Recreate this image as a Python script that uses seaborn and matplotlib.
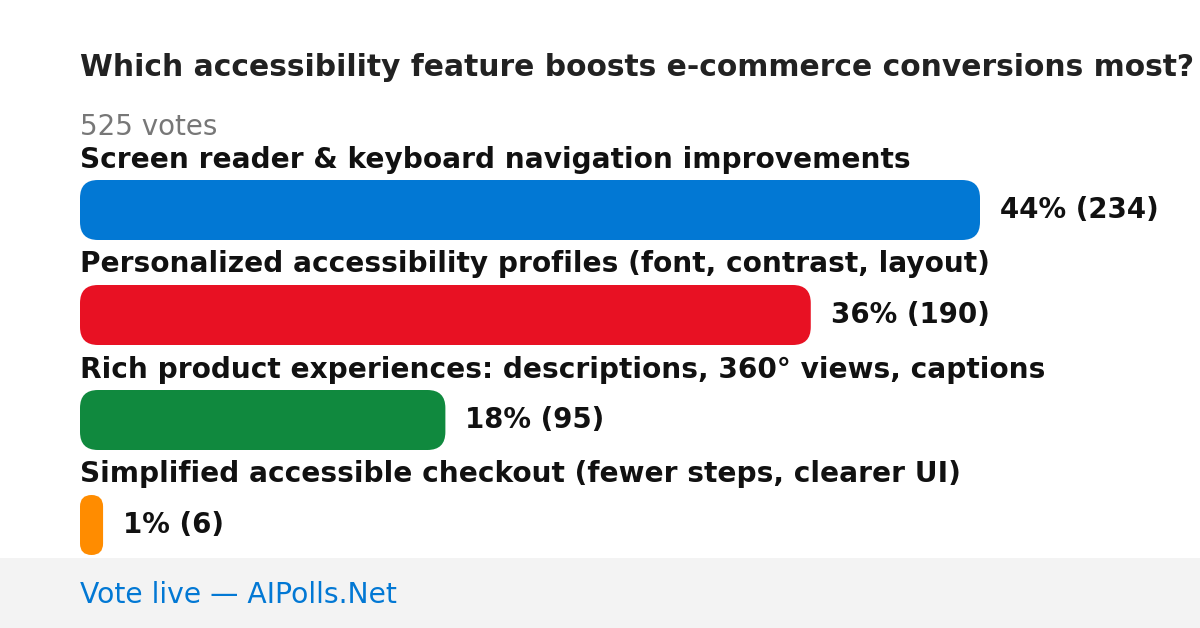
import matplotlib.pyplot as plt
import seaborn as sns
import pandas as pd
from matplotlib.patches import FancyBboxPatch, Rectangle

# Poll data
title = "Which accessibility feature boosts e-commerce conversions most?"
total_votes = 525
options = [
    "Screen reader & keyboard navigation improvements",
    "Personalized accessibility profiles (font, contrast, layout)",
    "Rich product experiences: descriptions, 360° views, captions",
    "Simplified accessible checkout (fewer steps, clearer UI)",
]
votes = [234, 190, 95, 6]
percents = [44, 36, 18, 1]
colors = ["#0278D4", "#E81123", "#10893E", "#FF8C00"]
footer = "Vote live — AIPolls.Net"

df = pd.DataFrame({"Option": options, "Votes": votes})

W, H = 1200, 628
sns.set_theme(style="white")
plt.rcParams["font.family"] = ["DejaVu Sans"]

fig = plt.figure(figsize=(W / 100, H / 100), dpi=100)
fig.patch.set_facecolor("white")

# footer band
fig.patches.append(Rectangle((0, 0), 1, 70 / H, transform=fig.transFigure,
                             facecolor="#F3F3F3", edgecolor="none", zorder=0))

# bar axes: x from 80px to 980px, row pitch 105px, first bar centre at y=210
pitch = 105
top = 210 - pitch / 2
bottom = top + pitch * len(options)
ax = fig.add_axes([80 / W, (H - bottom) / H, 900 / W, (bottom - top) / H])
ax.patch.set_alpha(0)
sns.barplot(data=df, y="Option", x="Votes", hue="Option", palette=colors,
            saturation=1, orient="h", width=60 / pitch, legend=False, ax=ax)
ax.set_xlim(0, max(votes))
ax.set_ylim(len(options) - 0.5, -0.5)
ax.axis("off")

# rounded bars
px_x = 900 / max(votes)
for p in list(ax.patches):
    x, y, w, h = p.get_x(), p.get_y(), p.get_width(), p.get_height()
    fc = p.get_facecolor()
    p.remove()
    r_px = min(18, w * px_x / 2)
    ax.add_patch(FancyBboxPatch(
        (x, y), w, h,
        boxstyle=f"round,pad=0,rounding_size={r_px / px_x}",
        mutation_aspect=px_x / pitch,
        facecolor=fc, edgecolor="none"))

for i, (v, pc) in enumerate(zip(votes, percents)):
    ax.text(v + 20 / px_x, i, f"{pc}% ({v})", ha="left", va="center",
            fontsize=19.9, fontweight="bold", color="#111111")
    ax.text(0, i - 0.5 + 2 / pitch, options[i], ha="left", va="center",
            fontsize=20.2, fontweight="bold", color="#111111")

fig.text(80 / W, 1 - 68 / H, title, ha="left", va="center",
         fontsize=21.4, fontweight="bold", color="#222222")
fig.text(80 / W, 1 - 127 / H, f"{total_votes} votes", ha="left", va="center",
         fontsize=20, color="#777777")
fig.text(80 / W, 1 - 595 / H, footer, ha="left", va="center",
         fontsize=20.3, color="#0278D4")

fig.savefig("out.png", dpi=100)
